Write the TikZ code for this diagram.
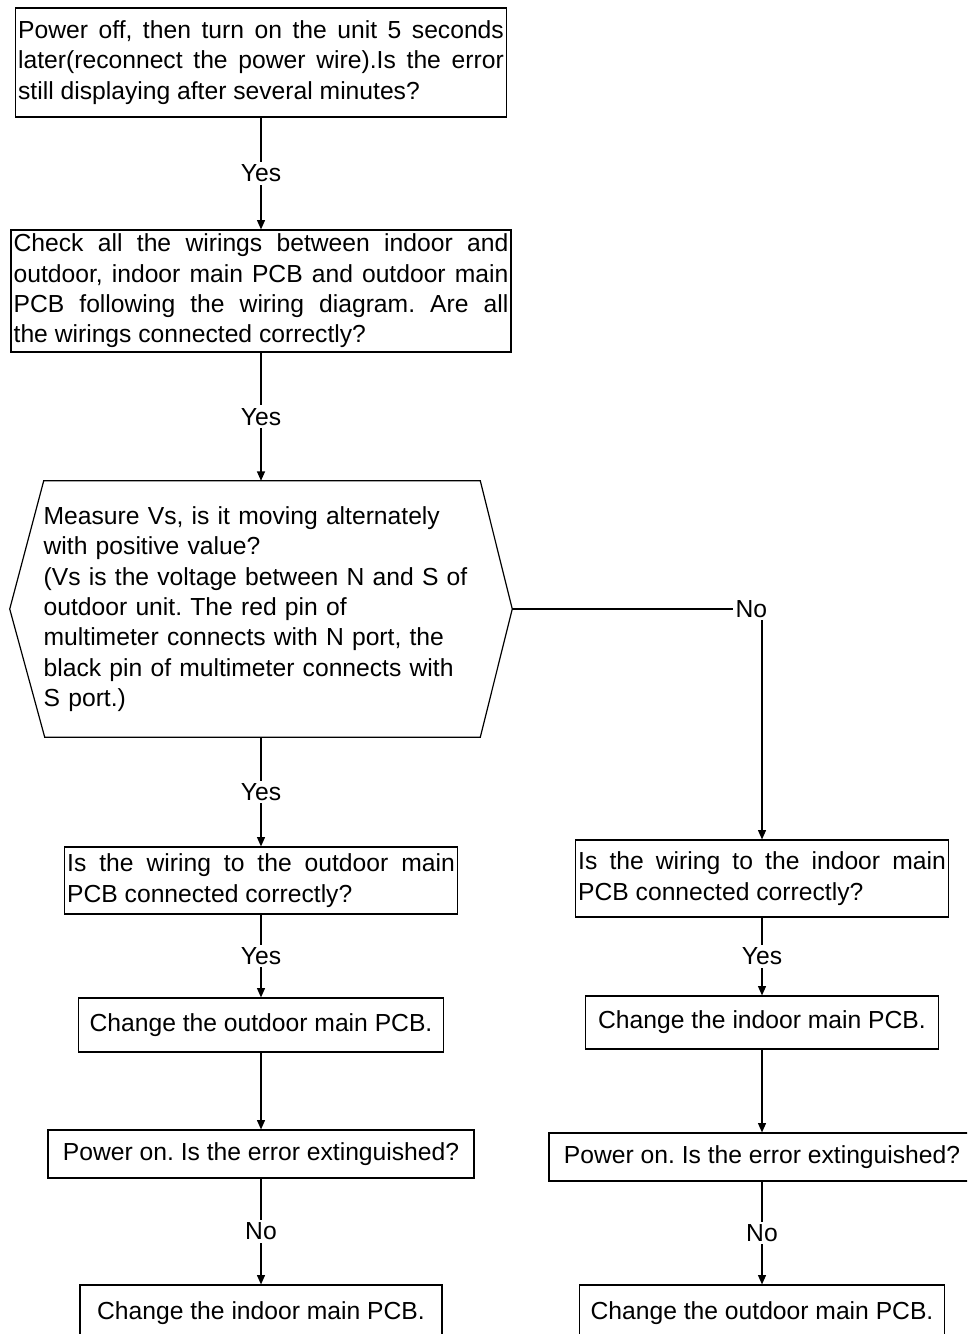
\documentclass[tikz,border=0pt]{standalone}
\usepackage{fontspec}
\setmainfont{Liberation Sans}
\usetikzlibrary{arrows.meta,calc}
\hbadness=10000
\frenchspacing

\begin{document}
\begin{tikzpicture}[
  x=0.75pt, y=-0.75pt,
  font=\fontsize{18.5pt}{22.75pt}\selectfont,
  stepbox/.style={draw, line width=0.9pt, inner xsep=2pt, inner ysep=2pt, align=justify},
  onebox/.style={draw, line width=0.9pt, align=center, inner sep=2pt},
  lbl/.style={fill=white, inner sep=2pt},
  arr/.style={-{Triangle[length=7pt,width=6pt]}, line width=0.9pt}
]
\clip (0,0) rectangle (967,1334);

\node[stepbox, text width=364.25pt, minimum height=81.75pt] (power) at (261,62.5) {%
  Power off, then turn on the unit 5 seconds\linebreak
  later(reconnect the power wire).Is the error\linebreak
  still displaying after several minutes?};
\node[stepbox, text width=371pt, minimum height=91.5pt] (wiring) at (261,291) {%
  Check all the wirings between indoor and\linebreak
  outdoor, indoor main PCB and outdoor main\linebreak
  PCB following the wiring diagram. Are all\linebreak
  the wirings connected correctly?};
\node[inner sep=0pt, text width=326pt, align=left,
  minimum width=376.5pt, minimum height=192pt] (measure) at (261,609) {%
  Measure Vs, is it moving alternately\\
  with positive value?\\
  (Vs is the voltage between N and S of\\
  outdoor unit. The red pin of\\
  multimeter connects with N port, the\\
  black pin of multimeter connects with\\
  S port.)};
\draw[line width=0.9pt] (measure.west) -- ($(measure.north west)+(34,0)$)
  -- ($(measure.north east)+(-32,0)$) -- (measure.east)
  -- ($(measure.south east)+(-32,0)$) -- ($(measure.south west)+(35,0)$) -- cycle;

\node[stepbox, text width=290.75pt, minimum height=50.25pt] (outwire) at (261,880.5) {%
  Is the wiring to the outdoor main\linebreak
  PCB connected correctly?};
\node[onebox, minimum width=273.75pt, minimum height=40.5pt] (chgout) at (261,1025) {Change the outdoor main PCB.};
\node[onebox, minimum width=319.5pt, minimum height=36pt] (pwrleft) at (261,1154) {Power on. Is the error extinguished?};
\node[onebox, minimum width=271.5pt, minimum height=42pt] (chginleft) at (261,1313) {Change the indoor main PCB.};

\node[stepbox, text width=275.75pt, minimum height=57.75pt] (inwire) at (762,878.5) {%
  Is the wiring to the indoor main\linebreak
  PCB connected correctly?};
\node[onebox, minimum width=264.75pt, minimum height=39.75pt] (chgin) at (762,1022.5) {Change the indoor main PCB.};
\node[onebox, minimum width=319.5pt, minimum height=36pt] (pwrright) at (762,1157) {Power on. Is the error extinguished?};
\node[onebox, minimum width=273.75pt, minimum height=42pt] (chgoutright) at (762,1313) {Change the outdoor main PCB.};

\draw[arr] (power) -- node[lbl]{Yes} (wiring);
\draw[arr] (wiring) -- node[lbl]{Yes} (measure);
\draw[arr] (measure) -- node[lbl]{Yes} (outwire);
\draw[arr] (measure.east) -| node[lbl, xshift=-8pt]{No} (inwire);
\draw[arr] (outwire) -- node[lbl]{Yes} (chgout);
\draw[arr] (chgout) -- (pwrleft);
\draw[arr] (pwrleft) -- node[lbl]{No} (chginleft);
\draw[arr] (inwire) -- node[lbl]{Yes} (chgin);
\draw[arr] (chgin) -- (pwrright);
\draw[arr] (pwrright) -- node[lbl]{No} (chgoutright);
\end{tikzpicture}
\end{document}
